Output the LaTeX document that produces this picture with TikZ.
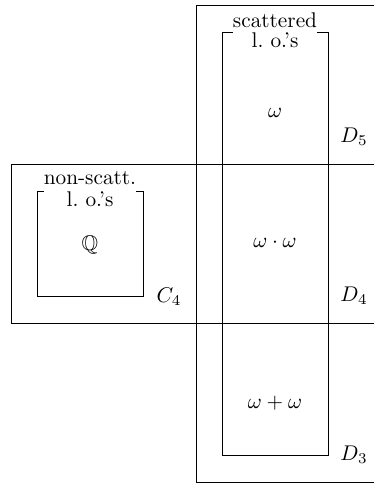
\documentclass[tikz,border=0pt]{standalone}
\usepackage{amssymb}
\tikzset{
  lbl/.style={inner sep=0pt},
  boxtitle/.style={fill=white, inner sep=0pt, align=center}
}
\begin{document}
\begin{tikzpicture}[x=0.47pt, y=-0.47pt]
  \useasboundingbox (0,0) rectangle (374,483);
  % --- les deux bandes ---
  \draw (196,5) rectangle (378,482);
  \draw (11,164) rectangle (378,323);
  % --- ordres dispers\'es ---
  \draw (222,32) rectangle (328,455);
  \node[boxtitle] (scat) at (275,30) {scattered\\[-2.4pt]l.\ o.'s};
  \node[lbl] (om) at (275,113) {$\omega$};
  \node[lbl] (omom) at (275,243) {$\omega\cdot\omega$};
  \node[lbl] (omplus) at (275,403) {$\omega+\omega$};
  % --- ordres non dispers\'es ---
  \draw (37,191) rectangle (143,296);
  \node[boxtitle] (nonscat) at (90,189) {non-scatt.\\[-2pt]l.\ o.'s};
  \node[lbl] (rat) at (90,245) {$\mathbb{Q}$};
  % --- \'etiquettes ---
  \node[lbl] (d5) at (354,137) {$D_5$};
  \node[lbl] (d4) at (354,296) {$D_4$};
  \node[lbl] (d3) at (354,455) {$D_3$};
  \node[lbl] (c4) at (169,297) {$C_4$};
\end{tikzpicture}
\end{document}
